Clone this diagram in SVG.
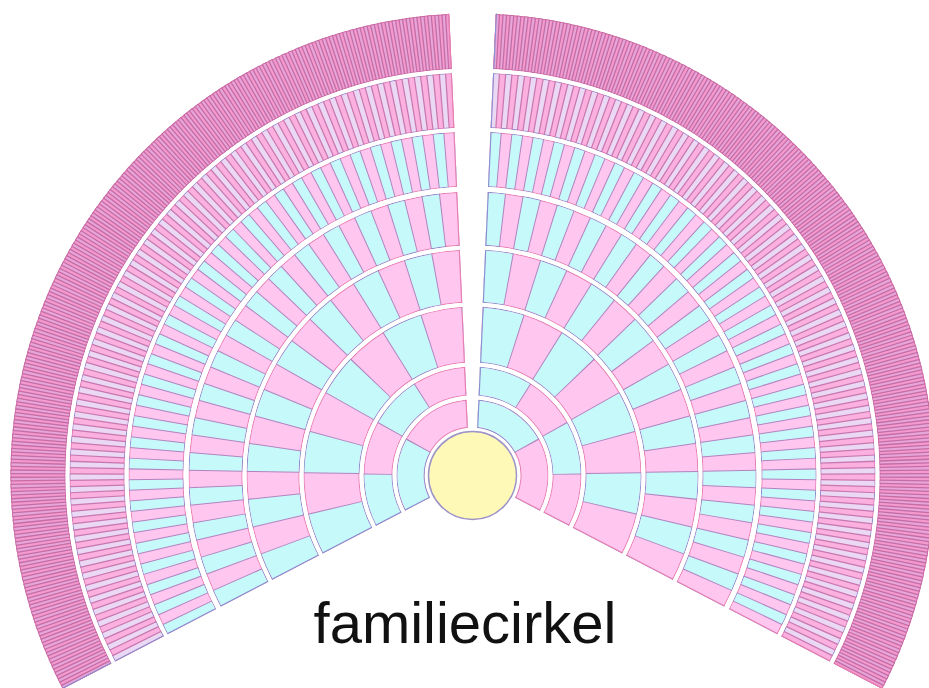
<svg xmlns="http://www.w3.org/2000/svg" width="929" height="688" viewBox="0 0 929 688">
<style>
circle{fill:none}
.pb{stroke:#e87fb0}
.bb{stroke:#8a8fd0}
.pf{stroke:#ffc6f0}
.bf{stroke:#c6fafa}
.dv{stroke:#b184bf}
.o7 .pf{stroke:#fbb0e0}
.o7 .bf{stroke:#ead8f4}
.o7 .dv{stroke:#c878b0}
.o7 .pb{stroke:#dc78b0}
.o8 .pf{stroke:#f39acf}
.o8 .bf{stroke:#e6a6d8}
.o8 .dv{stroke:#c66ca6}
.o8 .pb,.o8 .bb{stroke:#cc6aa2}
line{stroke-width:1.2}
.gap circle{stroke:#fff}
text{font-family:"Liberation Sans",Arial,sans-serif;font-size:58px;fill:#111}
</style>
<defs>
<clipPath id="cR"><polygon points="2.5,1.3 2.5,0 29.5,-600 700,-600 700,364.4"/></clipPath>
</defs>
<rect width="929" height="688" fill="#fff"/>
<g id="chart" transform="translate(472.5 475.5)">
<g id="right" clip-path="url(#cR)">
<g id="r1R" transform="rotate(-85.11)">
<circle r="62" stroke-width="28" class="pb" pathLength="360"/>
<circle r="62" stroke-width="28" class="bb" pathLength="360" stroke-dasharray="56.305 56.305"/>
<circle r="62" stroke-width="26" class="pf" pathLength="360"/>
<circle r="62" stroke-width="26" class="bf" pathLength="360" stroke-dasharray="56.305 56.305"/>
<circle r="62" stroke-width="28" class="dv" pathLength="360" stroke-dasharray="0.924 55.381" stroke-dashoffset="0.462"/>
</g>
<g id="r2R" transform="rotate(-85.91)">
<circle r="94.5" stroke-width="29" class="pb" pathLength="360"/>
<circle r="94.5" stroke-width="29" class="bb" pathLength="360" stroke-dasharray="28.353 28.353"/>
<circle r="94.5" stroke-width="27" class="pf" pathLength="360"/>
<circle r="94.5" stroke-width="27" class="bf" pathLength="360" stroke-dasharray="28.353 28.353"/>
<circle r="94.5" stroke-width="29" class="dv" pathLength="360" stroke-dasharray="0.606 27.747" stroke-dashoffset="0.303"/>
</g>
<g id="r3R" transform="rotate(-86.41)">
<circle r="141" stroke-width="56" class="pb" pathLength="360"/>
<circle r="141" stroke-width="56" class="bb" pathLength="360" stroke-dasharray="14.239 14.239"/>
<circle r="141" stroke-width="54" class="pf" pathLength="360"/>
<circle r="141" stroke-width="54" class="bf" pathLength="360" stroke-dasharray="14.239 14.239"/>
<circle r="141" stroke-width="56" class="dv" pathLength="360" stroke-dasharray="0.406 13.833" stroke-dashoffset="0.203"/>
</g>
<g id="r4R" transform="rotate(-86.70)">
<circle r="199.5" stroke-width="53" class="pb" pathLength="360"/>
<circle r="199.5" stroke-width="53" class="bb" pathLength="360" stroke-dasharray="7.1375 7.1375"/>
<circle r="199.5" stroke-width="51" class="pf" pathLength="360"/>
<circle r="199.5" stroke-width="51" class="bf" pathLength="360" stroke-dasharray="7.1375 7.1375"/>
<circle r="199.5" stroke-width="53" class="dv" pathLength="360" stroke-dasharray="0.287 6.8505" stroke-dashoffset="0.1435"/>
</g>
<g id="r5R" transform="rotate(-86.86)">
<circle r="257" stroke-width="54" class="pb" pathLength="360"/>
<circle r="257" stroke-width="54" class="bb" pathLength="360" stroke-dasharray="3.57375 3.57375"/>
<circle r="257" stroke-width="52" class="pf" pathLength="360"/>
<circle r="257" stroke-width="52" class="bf" pathLength="360" stroke-dasharray="3.57375 3.57375"/>
<circle r="257" stroke-width="54" class="dv" pathLength="360" stroke-dasharray="0.223 3.35075" stroke-dashoffset="0.1115"/>
</g>
<g id="r6R" transform="rotate(-86.97)">
<circle r="316.5" stroke-width="55" class="pb" pathLength="360"/>
<circle r="316.5" stroke-width="55" class="bb" pathLength="360" stroke-dasharray="1.78859 1.78859"/>
<circle r="316.5" stroke-width="53" class="pf" pathLength="360"/>
<circle r="316.5" stroke-width="53" class="bf" pathLength="360" stroke-dasharray="1.78859 1.78859"/>
<circle r="316.5" stroke-width="55" class="dv" pathLength="360" stroke-dasharray="0.181 1.60759" stroke-dashoffset="0.0905"/>
</g>
<g id="r7R" class="o7" transform="rotate(-87.04)">
<circle r="375.5" stroke-width="55" class="pb" pathLength="360"/>
<circle r="375.5" stroke-width="55" class="bb" pathLength="360" stroke-dasharray="0.894844 0.894844"/>
<circle r="375.5" stroke-width="53" class="pf" pathLength="360"/>
<circle r="375.5" stroke-width="53" class="bf" pathLength="360" stroke-dasharray="0.894844 0.894844"/>
<circle r="375.5" stroke-width="55" class="dv" pathLength="360" stroke-dasharray="0.19 0.704844" stroke-dashoffset="0.095"/>
</g>
<g id="r8R" class="o8" transform="rotate(-87.09)">
<circle r="434.5" stroke-width="55" class="pb" pathLength="360"/>
<circle r="434.5" stroke-width="55" class="bb" pathLength="360" stroke-dasharray="0.447617 0.447617"/>
<circle r="434.5" stroke-width="53" class="pf" pathLength="360"/>
<circle r="434.5" stroke-width="53" class="bf" pathLength="360" stroke-dasharray="0.447617 0.447617"/>
<circle r="434.5" stroke-width="55" class="dv" pathLength="360" stroke-dasharray="0.17 0.277617" stroke-dashoffset="0.085"/>
</g>
<line class="bb" x1="5.2" y1="-48" x2="23.8" y2="-462"/>
<line class="pb" x1="42.8" y1="21.7" x2="410" y2="212.9"/>
</g>
<g id="left" transform="scale(-1 1)" clip-path="url(#cR)">
<g id="r1L" transform="rotate(-85.11)">
<circle r="62" stroke-width="28" class="pb" pathLength="360"/>
<circle r="62" stroke-width="28" class="bb" pathLength="360" stroke-dasharray="56.305 56.305" stroke-dashoffset="56.305"/>
<circle r="62" stroke-width="26" class="pf" pathLength="360"/>
<circle r="62" stroke-width="26" class="bf" pathLength="360" stroke-dasharray="56.305 56.305" stroke-dashoffset="56.305"/>
<circle r="62" stroke-width="28" class="dv" pathLength="360" stroke-dasharray="0.924 55.381" stroke-dashoffset="0.462"/>
</g>
<g id="r2L" transform="rotate(-85.91)">
<circle r="94.5" stroke-width="29" class="pb" pathLength="360"/>
<circle r="94.5" stroke-width="29" class="bb" pathLength="360" stroke-dasharray="28.353 28.353" stroke-dashoffset="28.353"/>
<circle r="94.5" stroke-width="27" class="pf" pathLength="360"/>
<circle r="94.5" stroke-width="27" class="bf" pathLength="360" stroke-dasharray="28.353 28.353" stroke-dashoffset="28.353"/>
<circle r="94.5" stroke-width="29" class="dv" pathLength="360" stroke-dasharray="0.606 27.747" stroke-dashoffset="0.303"/>
</g>
<g id="r3L" transform="rotate(-86.41)">
<circle r="141" stroke-width="56" class="pb" pathLength="360"/>
<circle r="141" stroke-width="56" class="bb" pathLength="360" stroke-dasharray="14.239 14.239" stroke-dashoffset="14.239"/>
<circle r="141" stroke-width="54" class="pf" pathLength="360"/>
<circle r="141" stroke-width="54" class="bf" pathLength="360" stroke-dasharray="14.239 14.239" stroke-dashoffset="14.239"/>
<circle r="141" stroke-width="56" class="dv" pathLength="360" stroke-dasharray="0.406 13.833" stroke-dashoffset="0.203"/>
</g>
<g id="r4L" transform="rotate(-86.70)">
<circle r="199.5" stroke-width="53" class="pb" pathLength="360"/>
<circle r="199.5" stroke-width="53" class="bb" pathLength="360" stroke-dasharray="7.1375 7.1375" stroke-dashoffset="7.1375"/>
<circle r="199.5" stroke-width="51" class="pf" pathLength="360"/>
<circle r="199.5" stroke-width="51" class="bf" pathLength="360" stroke-dasharray="7.1375 7.1375" stroke-dashoffset="7.1375"/>
<circle r="199.5" stroke-width="53" class="dv" pathLength="360" stroke-dasharray="0.287 6.8505" stroke-dashoffset="0.1435"/>
</g>
<g id="r5L" transform="rotate(-86.86)">
<circle r="257" stroke-width="54" class="pb" pathLength="360"/>
<circle r="257" stroke-width="54" class="bb" pathLength="360" stroke-dasharray="3.57375 3.57375" stroke-dashoffset="3.57375"/>
<circle r="257" stroke-width="52" class="pf" pathLength="360"/>
<circle r="257" stroke-width="52" class="bf" pathLength="360" stroke-dasharray="3.57375 3.57375" stroke-dashoffset="3.57375"/>
<circle r="257" stroke-width="54" class="dv" pathLength="360" stroke-dasharray="0.223 3.35075" stroke-dashoffset="0.1115"/>
</g>
<g id="r6L" transform="rotate(-86.97)">
<circle r="316.5" stroke-width="55" class="pb" pathLength="360"/>
<circle r="316.5" stroke-width="55" class="bb" pathLength="360" stroke-dasharray="1.78859 1.78859" stroke-dashoffset="1.78859"/>
<circle r="316.5" stroke-width="53" class="pf" pathLength="360"/>
<circle r="316.5" stroke-width="53" class="bf" pathLength="360" stroke-dasharray="1.78859 1.78859" stroke-dashoffset="1.78859"/>
<circle r="316.5" stroke-width="55" class="dv" pathLength="360" stroke-dasharray="0.181 1.60759" stroke-dashoffset="0.0905"/>
</g>
<g id="r7L" class="o7" transform="rotate(-87.04)">
<circle r="375.5" stroke-width="55" class="pb" pathLength="360"/>
<circle r="375.5" stroke-width="55" class="bb" pathLength="360" stroke-dasharray="0.894844 0.894844" stroke-dashoffset="0.894844"/>
<circle r="375.5" stroke-width="53" class="pf" pathLength="360"/>
<circle r="375.5" stroke-width="53" class="bf" pathLength="360" stroke-dasharray="0.894844 0.894844" stroke-dashoffset="0.894844"/>
<circle r="375.5" stroke-width="55" class="dv" pathLength="360" stroke-dasharray="0.19 0.704844" stroke-dashoffset="0.095"/>
</g>
<g id="r8L" class="o8" transform="rotate(-87.09)">
<circle r="434.5" stroke-width="55" class="pb" pathLength="360"/>
<circle r="434.5" stroke-width="55" class="bb" pathLength="360" stroke-dasharray="0.447617 0.447617" stroke-dashoffset="0.447617"/>
<circle r="434.5" stroke-width="53" class="pf" pathLength="360"/>
<circle r="434.5" stroke-width="53" class="bf" pathLength="360" stroke-dasharray="0.447617 0.447617" stroke-dashoffset="0.447617"/>
<circle r="434.5" stroke-width="55" class="dv" pathLength="360" stroke-dasharray="0.17 0.277617" stroke-dashoffset="0.085"/>
</g>
<line class="pb" x1="5.2" y1="-48" x2="23.8" y2="-462"/>
<line class="bb" x1="42.8" y1="21.7" x2="410" y2="212.9"/>
</g>
<g class="gap">
<circle r="78" stroke-width="4"/>
<circle r="111" stroke-width="4"/>
<circle r="171" stroke-width="4"/>
<circle r="228" stroke-width="4"/>
<circle r="286.5" stroke-width="5"/>
<circle r="346" stroke-width="4"/>
<circle r="405" stroke-width="4"/>
</g>
<circle id="self" r="44" stroke="#9d93c8" stroke-width="1.5" style="fill:#fff9b8"/>
</g>
<text x="465" y="643" text-anchor="middle">familiecirkel</text>
</svg>
